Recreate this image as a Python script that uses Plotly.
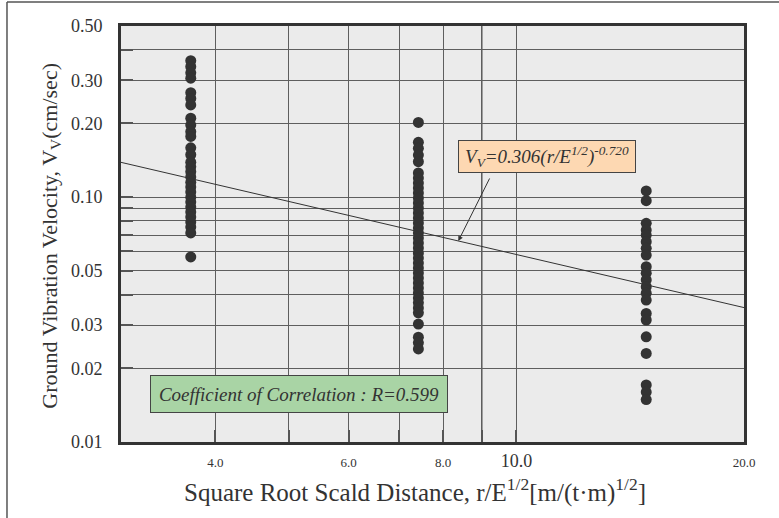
import math
import plotly.graph_objects as go

# Scaled distance groups r/E^(1/2) and measured peak particle velocities (cm/sec)
group_distance = [3.71, 7.42, 14.85]

velocity_g1 = [0.361, 0.341, 0.322, 0.306, 0.267, 0.253, 0.238, 0.210, 0.197,
               0.185, 0.177, 0.159, 0.149, 0.139, 0.133, 0.127, 0.121, 0.115,
               0.110, 0.105, 0.100, 0.0955, 0.0911, 0.0870, 0.0830, 0.0791,
               0.0755, 0.0714, 0.0570]

velocity_g2 = [0.202, 0.1675, 0.1583, 0.1486, 0.1396, 0.1255, 0.1197, 0.1142,
               0.1090, 0.1040, 0.0992, 0.0947, 0.0903, 0.0862, 0.0822, 0.0785,
               0.0748, 0.0714, 0.0681, 0.0650, 0.0620, 0.0592, 0.0564, 0.0538,
               0.0514, 0.0490, 0.0468, 0.0446, 0.0426, 0.0406, 0.0387, 0.0370,
               0.0353, 0.0337, 0.0303, 0.0268, 0.0254, 0.0240]

velocity_g3 = [0.106, 0.0967, 0.0782, 0.0734, 0.0700, 0.0658, 0.0618, 0.0580,
               0.0520, 0.0489, 0.0459, 0.0431, 0.0405, 0.0380, 0.0335, 0.0315,
               0.0269, 0.0230, 0.0171, 0.0160, 0.0149]

# Regression: V = K * (r/E^0.5)^n
fit_k = 0.306
fit_n = -0.720
fit_r = 0.599
fit_x = [3.0, 20.0]

x_ticks = [4, 6, 8, 10, 20]
x_ticktext = ["4.0", "6.0", "8.0", "<span style='font-size:18px'>10.0</span>", "20.0"]
x_minor = [5, 7, 9]
y_ticks = [0.01, 0.02, 0.03, 0.05, 0.1, 0.2, 0.3, 0.5]
y_ticktext = ["0.01", "0.02", "0.03", "0.05", "0.10", "0.20", "0.30", "0.50"]
y_minor = [0.04, 0.06, 0.07, 0.08, 0.09, 0.4]

INK = "#333333"
SERIF = "Liberation Serif"

fig = go.Figure()

groups = [velocity_g1, velocity_g2, velocity_g3]
for xd, vals in zip(group_distance, groups):
    fig.add_trace(go.Scatter(
        x=[xd] * len(vals), y=vals, mode="markers",
        marker=dict(size=11, color=INK, line=dict(width=0)),
        showlegend=False, hoverinfo="x+y",
    ))

fit_y = [fit_k * xv ** fit_n for xv in fit_x]
fig.add_trace(go.Scatter(
    x=fit_x, y=fit_y, mode="lines",
    line=dict(color=INK, width=1), showlegend=False, hoverinfo="skip",
))

# point on the regression line that the equation label refers to
arrow_x = 8.38
arrow_y = fit_k * arrow_x ** fit_n

annotations = [
    dict(
        xref="paper", yref="paper", x=0.6838, y=0.6863,
        xanchor="center", yanchor="middle",
        text="<i>V<sub>V</sub>=0.306(r/E<sup>1/2</sup>)<sup>-0.720</sup></i>",
        showarrow=False, font=dict(family=SERIF, size=19, color=INK),
        bgcolor="#FDD8B2", bordercolor="#444444", borderwidth=1,
        width=174, height=29, borderpad=1,
    ),
    dict(
        xref="x", yref="y", x=math.log10(arrow_x), y=math.log10(arrow_y),
        text="", showarrow=True, ax=32, ay=-64,
        arrowhead=2, arrowsize=1, arrowwidth=1, arrowcolor=INK,
    ),
    dict(
        xref="paper", yref="paper", x=0.2857, y=0.1147,
        xanchor="center", yanchor="middle",
        text="<i>Coefficient of Correlation : R=%.3f</i>" % fit_r,
        showarrow=False, font=dict(family=SERIF, size=19, color=INK),
        bgcolor="#A9D4A5", bordercolor="#444444", borderwidth=1,
        width=294, height=34, borderpad=1,
    ),
    # axis titles
    dict(
        xref="paper", yref="paper", x=0.472, y=-0.1154,
        xanchor="center", yanchor="middle", showarrow=False,
        text="Square Root Scald Distance, r/E<sup>1/2</sup>[m/(t·m)<sup>1/2</sup>]",
        font=dict(family=SERIF, size=25, color=INK),
    ),
    dict(
        xref="paper", yref="paper", x=-0.113, y=0.495,
        xanchor="center", yanchor="middle", showarrow=False, textangle=-90,
        text="Ground Vibration Velocity, V<sub>V</sub>(cm/sec)",
        font=dict(family=SERIF, size=22, color=INK),
    ),
]

shapes = [
    # outer frame (top and left edges)
    dict(type="line", xref="paper", yref="paper", x0=-0.183, x1=1.06, y0=1.0577, y1=1.0577,
         line=dict(color="#555555", width=1.5)),
    dict(type="line", xref="paper", yref="paper", x0=-0.183, x1=-0.183, y0=1.0577, y1=-0.19,
         line=dict(color="#555555", width=1.5)),
    # emphasised grid line at 9.0
    dict(type="line", xref="x", yref="paper", x0=9, x1=9, y0=0, y1=1,
         line=dict(color="#222222", width=1.2), layer="below"),
]

grid_style = dict(showgrid=True, gridcolor="#5E5E5E", gridwidth=1.2)
tick_style = dict(ticks="inside", ticklen=12, tickwidth=1.5, tickcolor="#555555")

fig.update_layout(
    width=779, height=518,
    margin=dict(l=121, r=35, t=26, b=76),
    paper_bgcolor="white", plot_bgcolor="#EBEBEB",
    font=dict(family=SERIF, color=INK),
    annotations=annotations, shapes=shapes,
    xaxis=dict(
        type="log", range=[math.log10(3), math.log10(20)],
        tickmode="array", tickvals=x_ticks, ticktext=x_ticktext,
        tickfont=dict(family=SERIF, size=13, color=INK),
        ticklabelstandoff=6,
        minor=dict(tickmode="array", tickvals=x_minor, **grid_style, **tick_style),
        showline=True, linecolor=INK, linewidth=3, mirror=True,
        zeroline=False, **grid_style, **tick_style,
    ),
    yaxis=dict(
        type="log", range=[math.log10(0.01), math.log10(0.5)],
        tickmode="array", tickvals=y_ticks, ticktext=y_ticktext,
        tickfont=dict(family=SERIF, size=18, color=INK),
        ticklabelstandoff=12,
        minor=dict(tickmode="array", tickvals=y_minor, **grid_style, **tick_style),
        showline=True, linecolor=INK, linewidth=3, mirror=True,
        zeroline=False, **grid_style, **tick_style,
    ),
)

fig.write_html("out.html")
